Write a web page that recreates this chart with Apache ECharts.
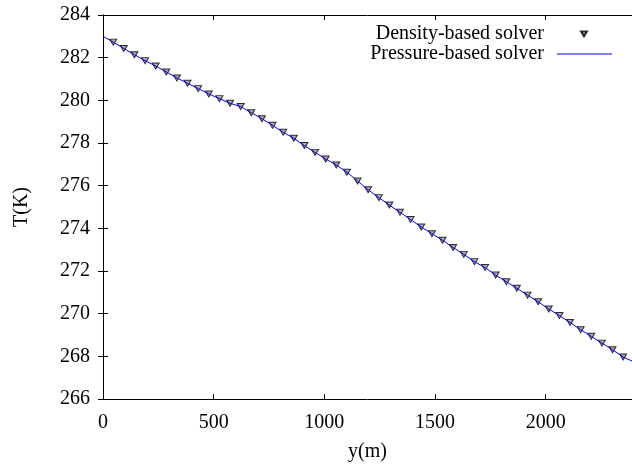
<!DOCTYPE html>
<html>
<head>
<meta charset="utf-8">
<script src="https://cdn.jsdelivr.net/npm/echarts@6/dist/echarts.min.js"></script>
<style>
  html, body { margin: 0; padding: 0; background: #fff; }
  #chart { width: 632px; height: 468px; }
</style>
</head>
<body>
<div id="chart"></div>
<script>
// density-based solver samples (y in m, T in K)
const densityY = [46, 94, 142, 190, 238, 286, 334, 382, 430, 478, 526, 574, 622, 670, 718, 766,
  814, 862, 910, 958, 1006, 1054, 1102, 1150, 1198, 1246, 1294, 1342, 1390, 1438, 1486, 1534,
  1582, 1630, 1678, 1726, 1774, 1822, 1870, 1918, 1966, 2014, 2062, 2110, 2158, 2206, 2254, 2302, 2350]
const densityT = [282.73, 282.43, 282.14, 281.86, 281.61, 281.33, 281.05, 280.80, 280.55, 280.30, 280.08, 279.86, 279.71, 279.42, 279.14, 278.83,
  278.50, 278.22, 277.88, 277.56, 277.25, 276.97, 276.63, 276.22, 275.81, 275.44, 275.09, 274.75, 274.41, 274.06, 273.75, 273.44,
  273.10, 272.78, 272.44, 272.16, 271.81, 271.50, 271.19, 270.87, 270.56, 270.22, 269.91, 269.59, 269.25, 268.94, 268.62, 268.31, 267.97]

// pressure-based solver curve
const pressureY = [0, 46, 94, 142, 190, 238, 286, 334, 382, 430, 478, 526, 574, 622, 670, 718, 766,
  814, 862, 910, 958, 1006, 1054, 1102, 1150, 1198, 1246, 1294, 1342, 1390, 1438, 1486, 1534,
  1582, 1630, 1678, 1726, 1774, 1822, 1870, 1918, 1966, 2014, 2062, 2110, 2158, 2206, 2254, 2302, 2350, 2390]
const pressureT = [283.00, 282.73, 282.43, 282.14, 281.86, 281.61, 281.33, 281.05, 280.80, 280.55, 280.30, 280.08, 279.86, 279.71, 279.42, 279.14, 278.83,
  278.50, 278.22, 277.88, 277.56, 277.25, 276.97, 276.63, 276.22, 275.81, 275.44, 275.09, 274.75, 274.41, 274.06, 273.75, 273.44,
  273.10, 272.78, 272.44, 272.16, 271.81, 271.50, 271.19, 270.87, 270.56, 270.22, 269.91, 269.59, 269.25, 268.94, 268.62, 268.31, 267.97, 267.78]

const xTicks = [0, 500, 1000, 1500, 2000]
const yTicks = [266, 268, 270, 272, 274, 276, 278, 280, 282, 284]

const font = "'Liberation Serif', 'Times New Roman', serif"
const axisLine = { show: true, lineStyle: { color: '#000', width: 1 } }
const tick = { show: true, inside: true, length: 5, lineStyle: { color: '#000', width: 1 } }
const downTriangle = 'path://M0,0 L10,0 L5,8 Z'

const chart = echarts.init(document.getElementById('chart'))
chart.setOption({
  animation: false,
  backgroundColor: '#fff',
  grid: { left: 103, top: 15, width: 531, height: 384 },
  legend: [
    {
      data: [{ name: 'Density-based solver', icon: downTriangle }],
      orient: 'vertical', align: 'right', right: 44, top: 24, padding: 0,
      itemWidth: 6, itemHeight: 5,
      textStyle: { fontFamily: font, fontSize: 20, color: '#000', padding: [0, 32, 0, 0] },
    },
    {
      data: [{ name: 'Pressure-based solver', icon: 'rect' }],
      orient: 'vertical', align: 'right', right: 20, top: 44, padding: 0,
      itemWidth: 55, itemHeight: 1,
      itemStyle: { color: '#0000ff' },
      textStyle: { fontFamily: font, fontSize: 20, color: '#000', padding: [0, 8, 0, 0] },
    },
  ],
  xAxis: [
    {
      type: 'value', position: 'bottom', min: 0, max: 2390, interval: 500,
      name: 'y(m)', nameLocation: 'middle', nameGap: 43,
      nameTextStyle: { fontFamily: font, fontSize: 20, color: '#000' },
      axisLine, axisTick: tick, splitLine: { show: false },
      axisLabel: { fontFamily: font, fontSize: 20, color: '#000', margin: 14, showMaxLabel: false,
        formatter: v => xTicks.includes(v) ? String(v) : '' },
    },
    {
      type: 'value', position: 'top', min: 0, max: 2390, interval: 500,
      axisLine, axisTick: tick, splitLine: { show: false }, axisLabel: { show: false },
    },
  ],
  yAxis: [
    {
      type: 'value', position: 'left', min: 266, max: 284, interval: 2,
      name: 'T(K)', nameLocation: 'middle', nameGap: 71,
      nameTextStyle: { fontFamily: font, fontSize: 20, color: '#000' },
      axisLine, axisTick: tick, splitLine: { show: false },
      axisLabel: { fontFamily: font, fontSize: 20, color: '#000', margin: 13,
        formatter: v => yTicks.includes(v) ? String(v) : '' },
    },
    {
      type: 'value', position: 'right', min: 266, max: 284, interval: 2,
      axisLine, axisTick: tick, splitLine: { show: false }, axisLabel: { show: false },
    },
  ],
  series: [
    {
      name: 'Density-based solver',
      type: 'scatter',
      data: densityY.map((y, i) => [y, densityT[i]]),
      symbol: 'triangle', symbolRotate: 180, symbolSize: [7, 6],
      itemStyle: { color: '#999', borderColor: '#000', borderWidth: 1 },
      z: 2,
    },
    {
      name: 'Pressure-based solver',
      type: 'line',
      data: pressureY.map((y, i) => [y, pressureT[i]]),
      symbol: 'none',
      lineStyle: { color: '#0000ff', width: 1 },
      itemStyle: { color: '#0000ff' },
      z: 3,
    },
  ],
})
</script>
</body>
</html>
